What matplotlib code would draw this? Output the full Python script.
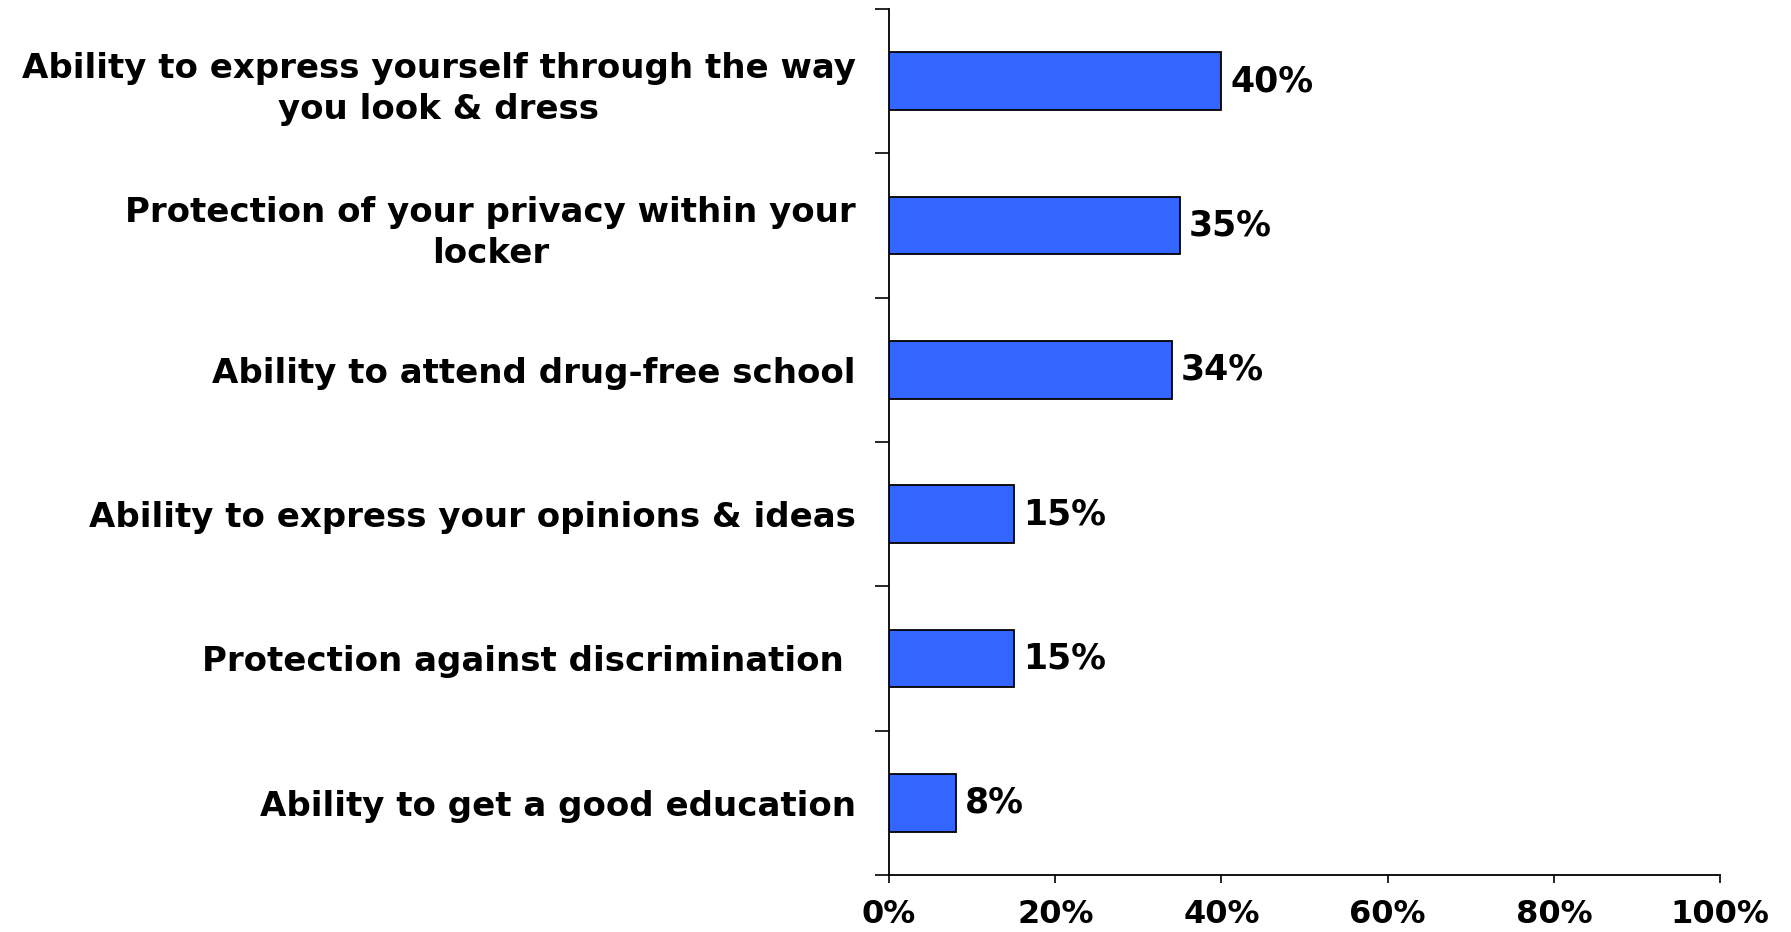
import matplotlib.pyplot as plt
import numpy as np

# Survey results: rights students value most
categories = [
    'Ability to express yourself through the way\nyou look & dress',
    'Protection of your privacy within your\nlocker',
    'Ability to attend drug-free school',
    'Ability to express your opinions & ideas',
    'Protection against discrimination ',
    'Ability to get a good education',
]
values = [40, 35, 34, 15, 15, 8]
xticks = [0, 20, 40, 60, 80, 100]
xtick_labels = ['0%', '20%', '40%', '60%', '80%', '100%']

fig = plt.figure(figsize=(17.91, 9.32), dpi=100)
ax = fig.add_axes([0.4964, 0.0612, 0.4640, 0.9291])

y = np.arange(len(categories))
ax.barh(y, values, height=0.4, color='#3366FF', edgecolor='black', linewidth=1.3)

for yi, v in zip(y, values):
    ax.text(v + 1.1, yi, f'{v}%', va='center', ha='left',
            fontsize=25, fontweight='bold', color='black')

ax.set_ylim(len(categories) - 0.5, -0.5)
ax.set_xlim(0, 100)

# category labels centred on bars, ticks on the boundaries between them
ax.set_yticks(y)
ax.set_yticklabels(categories, fontsize=24.5, fontweight='bold', ha='right',
                   multialignment='center', linespacing=1.3)
ax.set_yticks(np.arange(-0.5, len(categories)), minor=True)
ax.tick_params(axis='y', which='major', length=0, pad=24)
ax.tick_params(axis='y', which='minor', length=10, width=1.2, direction='out')

ax.set_xticks(xticks)
ax.set_xticklabels(xtick_labels, fontsize=23, fontweight='bold')
ax.tick_params(axis='x', length=6, width=1.2, direction='out', pad=11)

ax.spines['top'].set_visible(False)
ax.spines['right'].set_visible(False)
ax.spines['left'].set_linewidth(1.3)
ax.spines['bottom'].set_linewidth(1.3)

fig.savefig('out.png', dpi=100)
